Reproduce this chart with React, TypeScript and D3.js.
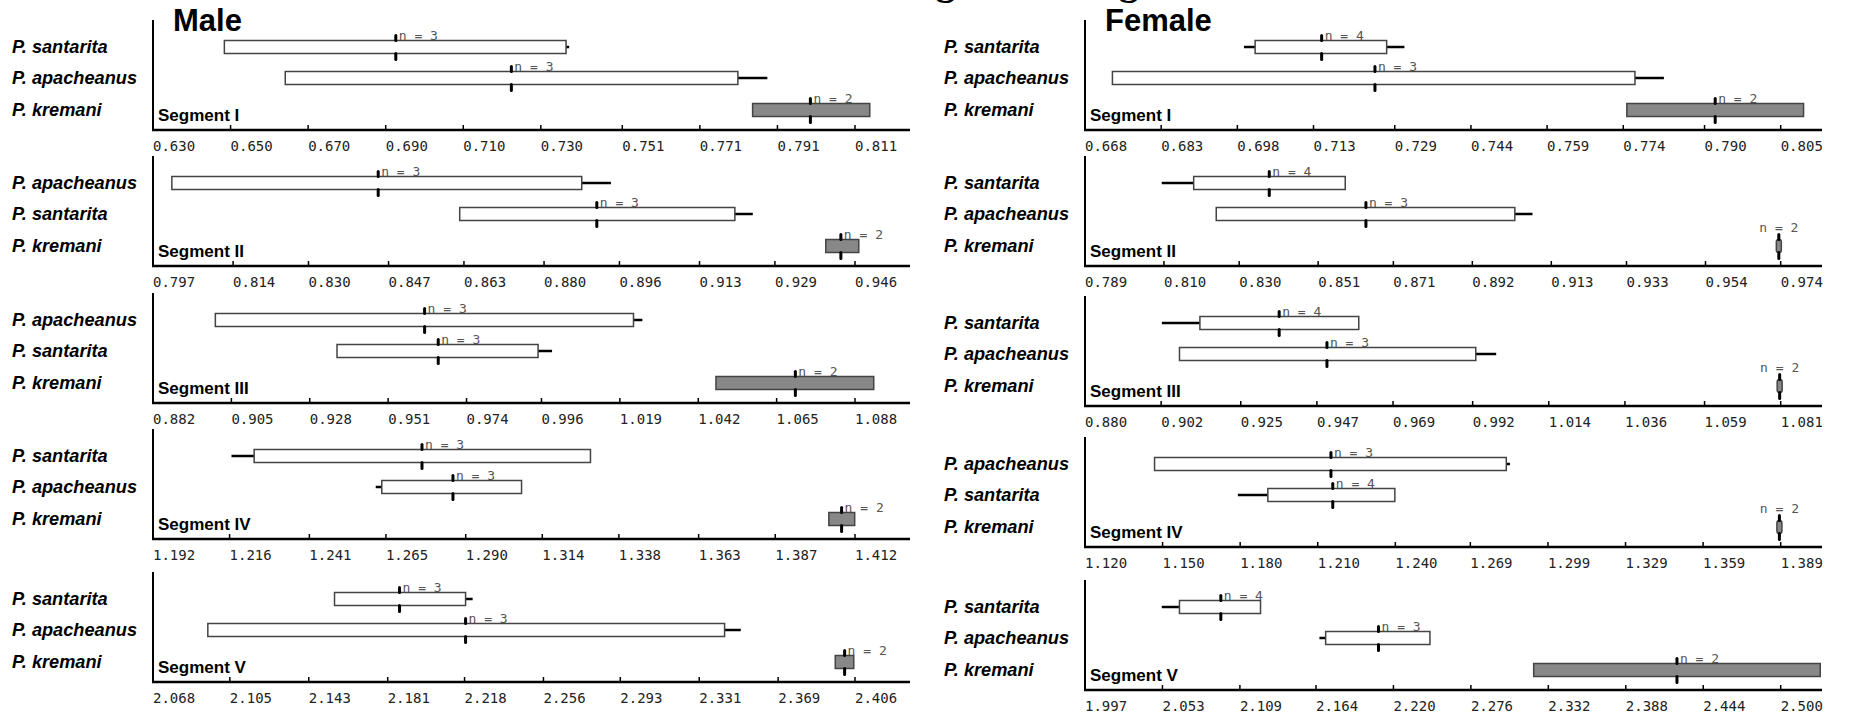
import React from "react";
import * as d3 from "d3";

type Row = { sp: string; lo: number; q1: number; q3: number; hi: number; mid: number; n: number };

const W = 1857;
const H = 713;

const segments = ["Segment I", "Segment II", "Segment III", "Segment IV", "Segment V"];

// tick labels of each panel, male column
const maleTicks = [
  ["0.630", "0.650", "0.670", "0.690", "0.710", "0.730", "0.751", "0.771", "0.791", "0.811"],
  ["0.797", "0.814", "0.830", "0.847", "0.863", "0.880", "0.896", "0.913", "0.929", "0.946"],
  ["0.882", "0.905", "0.928", "0.951", "0.974", "0.996", "1.019", "1.042", "1.065", "1.088"],
  ["1.192", "1.216", "1.241", "1.265", "1.290", "1.314", "1.338", "1.363", "1.387", "1.412"],
  ["2.068", "2.105", "2.143", "2.181", "2.218", "2.256", "2.293", "2.331", "2.369", "2.406"],
];

// female column
const femaleTicks = [
  ["0.668", "0.683", "0.698", "0.713", "0.729", "0.744", "0.759", "0.774", "0.790", "0.805"],
  ["0.789", "0.810", "0.830", "0.851", "0.871", "0.892", "0.913", "0.933", "0.954", "0.974"],
  ["0.880", "0.902", "0.925", "0.947", "0.969", "0.992", "1.014", "1.036", "1.059", "1.081"],
  ["1.120", "1.150", "1.180", "1.210", "1.240", "1.269", "1.299", "1.329", "1.359", "1.389"],
  ["1.997", "2.053", "2.109", "2.164", "2.220", "2.276", "2.332", "2.388", "2.444", "2.500"],
];

const maleSeg1: Row[] = [
  { sp: "P. santarita", lo: 0.6484, q1: 0.6484, q3: 0.7365, hi: 0.7373, mid: 0.6926, n: 3 },
  { sp: "P. apacheanus", lo: 0.6641, q1: 0.6641, q3: 0.7808, hi: 0.7884, mid: 0.7224, n: 3 },
  { sp: "P. kremani", lo: 0.7846, q1: 0.7846, q3: 0.8148, hi: 0.8148, mid: 0.7995, n: 2 },
];
const maleSeg2: Row[] = [
  { sp: "P. apacheanus", lo: 0.801, q1: 0.801, q3: 0.888, hi: 0.8942, mid: 0.8448, n: 3 },
  { sp: "P. santarita", lo: 0.8621, q1: 0.8621, q3: 0.9205, hi: 0.9243, mid: 0.8912, n: 3 },
  { sp: "P. kremani", lo: 0.9398, q1: 0.9398, q3: 0.9468, hi: 0.9468, mid: 0.943, n: 2 },
];
const maleSeg3: Row[] = [
  { sp: "P. apacheanus", lo: 0.9003, q1: 0.9003, q3: 1.023, hi: 1.0256, mid: 0.9617, n: 3 },
  { sp: "P. santarita", lo: 0.936, q1: 0.936, q3: 0.995, hi: 0.9991, mid: 0.9657, n: 3 },
  { sp: "P. kremani", lo: 1.0472, q1: 1.0472, q3: 1.0935, hi: 1.0935, mid: 1.0705, n: 2 },
];
const maleSeg4: Row[] = [
  { sp: "P. santarita", lo: 1.2166, q1: 1.2237, q3: 1.3291, hi: 1.3291, mid: 1.2763, n: 3 },
  { sp: "P. apacheanus", lo: 1.2618, q1: 1.2637, q3: 1.3075, hi: 1.3075, mid: 1.286, n: 3 },
  { sp: "P. kremani", lo: 1.4038, q1: 1.4038, q3: 1.4119, hi: 1.4119, mid: 1.4078, n: 2 },
];
const maleSeg5: Row[] = [
  { sp: "P. santarita", lo: 2.1554, q1: 2.1554, q3: 2.2185, hi: 2.2219, mid: 2.1867, n: 3 },
  { sp: "P. apacheanus", lo: 2.0944, q1: 2.0944, q3: 2.3432, hi: 2.351, mid: 2.2185, n: 3 },
  { sp: "P. kremani", lo: 2.3965, q1: 2.3965, q3: 2.4054, hi: 2.4054, mid: 2.401, n: 2 },
];

const femSeg1: Row[] = [
  { sp: "P. santarita", lo: 0.6993, q1: 0.7015, q3: 0.7274, hi: 0.7309, mid: 0.7146, n: 4 },
  { sp: "P. apacheanus", lo: 0.6734, q1: 0.6734, q3: 0.7763, hi: 0.782, mid: 0.7251, n: 3 },
  { sp: "P. kremani", lo: 0.7747, q1: 0.7747, q3: 0.8095, hi: 0.8095, mid: 0.7921, n: 2 },
];
const femSeg2: Row[] = [
  { sp: "P. santarita", lo: 0.8094, q1: 0.8179, q3: 0.8582, hi: 0.8582, mid: 0.838, n: 4 },
  { sp: "P. apacheanus", lo: 0.8239, q1: 0.8239, q3: 0.9033, hi: 0.908, mid: 0.8637, n: 3 },
  { sp: "P. kremani", lo: 0.973, q1: 0.973, q3: 0.974, hi: 0.974, mid: 0.9735, n: 2 },
];
const femSeg3: Row[] = [
  { sp: "P. santarita", lo: 0.9022, q1: 0.9132, q3: 0.9591, hi: 0.9591, mid: 0.9361, n: 4 },
  { sp: "P. apacheanus", lo: 0.9073, q1: 0.9073, q3: 0.9929, hi: 0.9988, mid: 0.9499, n: 3 },
  { sp: "P. kremani", lo: 1.0802, q1: 1.0802, q3: 1.0812, hi: 1.0812, mid: 1.0807, n: 2 },
];
const femSeg4: Row[] = [
  { sp: "P. apacheanus", lo: 1.1469, q1: 1.1469, q3: 1.2829, hi: 1.2843, mid: 1.2151, n: 3 },
  { sp: "P. santarita", lo: 1.1791, q1: 1.1907, q3: 1.2398, hi: 1.2398, mid: 1.2158, n: 4 },
  { sp: "P. kremani", lo: 1.388, q1: 1.388, q3: 1.389, hi: 1.389, mid: 1.3885, n: 2 },
];
const femSeg5: Row[] = [
  { sp: "P. santarita", lo: 2.0525, q1: 2.0653, q3: 2.1239, hi: 2.1239, mid: 2.0952, n: 4 },
  { sp: "P. apacheanus", lo: 2.1665, q1: 2.171, q3: 2.2464, hi: 2.2464, mid: 2.2092, n: 3 },
  { sp: "P. kremani", lo: 2.3214, q1: 2.3214, q3: 2.5286, hi: 2.5286, mid: 2.425, n: 2 },
];

const maleRows = [maleSeg1, maleSeg2, maleSeg3, maleSeg4, maleSeg5];
const femaleRows = [femSeg1, femSeg2, femSeg3, femSeg4, femSeg5];

// layout
const ROW_OFF = [-83, -52, -20];
const BOX_H = 13;
const SANS = "'Liberation Sans', Arial, Helvetica, sans-serif";
const MONO = "'DejaVu Sans Mono', monospace";

const columns = [
  { title: "Male", labelX: 12, x0: 153, step: 78, xEnd: 910, axisY: [130, 266, 403, 539, 682], ticks: maleTicks, rows: maleRows },
  { title: "Female", labelX: 944, x0: 1085, step: 77.3, xEnd: 1822, axisY: [130, 266, 406, 547, 690], ticks: femaleTicks, rows: femaleRows },
];

function Panel({ x0, step, xEnd, axisY, labelX, ticks, rows, seg }: any) {
  const t: string[] = ticks;
  const x = d3
    .scaleLinear()
    .domain([+t[0], +t[t.length - 1]])
    .range([x0, x0 + step * (t.length - 1)]);
  const top = axisY - 110;

  return (
    <g>
      <line x1={x0} x2={x0} y1={top} y2={axisY} stroke="#000" strokeWidth={2} />
      <line x1={x0 - 1} x2={xEnd} y1={axisY} y2={axisY} stroke="#000" strokeWidth={2.5} />
      {t.map((lab, i) => (
        <g key={lab + i}>
          {i > 0 && <line x1={x(+lab)} x2={x(+lab)} y1={axisY} y2={axisY - 5} stroke="#000" strokeWidth={1.5} />}
          <text x={x(+lab)} y={axisY + 21} fontFamily={MONO} fontSize={14} fill="#222">
            {lab}
          </text>
        </g>
      ))}
      <text x={x0 + 5} y={axisY - 9} fontFamily={SANS} fontWeight="bold" fontSize={17} fill="#000">
        {seg}
      </text>
      {(rows as Row[]).map((r, i) => {
        const cy = axisY + ROW_OFF[i];
        const b0 = x(r.q1);
        const b1 = x(r.q3);
        const narrow = b1 - b0 < 6;
        const bw = Math.max(b1 - b0, 5);
        const bx = narrow ? x(r.mid) - bw / 2 : b0;
        const yTop = cy - BOX_H / 2;
        const yBot = cy + BOX_H / 2;
        const xm = x(r.mid);
        const gray = r.sp === "P. kremani";
        return (
          <g key={r.sp}>
            <text x={labelX} y={cy + 6} fontFamily={SANS} fontWeight="bold" fontStyle="italic" fontSize={18.2} fill="#000">
              {r.sp}
            </text>
            {r.lo < r.q1 && <line x1={x(r.lo)} x2={b0} y1={cy} y2={cy} stroke="#000" strokeWidth={2.5} />}
            {r.hi > r.q3 && <line x1={b1} x2={x(r.hi)} y1={cy} y2={cy} stroke="#000" strokeWidth={2.5} />}
            <rect
              x={bx}
              y={yTop}
              width={bw}
              height={BOX_H}
              rx={narrow ? bw / 2 : 0}
              fill={gray ? "#888" : "#fff"}
              stroke="#444"
              strokeWidth={1.5}
            />
            <line x1={xm} x2={xm} y1={yTop - 5} y2={yTop} stroke="#000" strokeWidth={3} strokeLinecap="round" />
            <line x1={xm} x2={xm} y1={yBot} y2={yBot + 6} stroke="#000" strokeWidth={3} strokeLinecap="round" />
            {narrow ? (
              <text x={xm} y={yTop - 8} textAnchor="middle" fontFamily={MONO} fontSize={13} fill="#555">
                {`n = ${r.n}`}
              </text>
            ) : (
              <text x={xm + 3} y={yTop - 1} fontFamily={MONO} fontSize={13} fill="#555">
                {`n = ${r.n}`}
              </text>
            )}
          </g>
        );
      })}
    </g>
  );
}

export default function App() {
  return (
    <svg width={W} height={H} style={{ position: "absolute", left: 0, top: 0, background: "#fff" }}>
      <rect width={W} height={H} fill="#fff" />
      <text x={1035} y={-6} textAnchor="middle" fontFamily="'Liberation Serif', serif" fontWeight="bold" fontSize={40}>
        Segment Length
      </text>
      {columns.map((c) => (
        <g key={c.title}>
          <text x={c.x0 + 20} y={31} fontFamily={SANS} fontWeight="bold" fontSize={31} fill="#000">
            {c.title}
          </text>
          {segments.map((s, i) => (
            <Panel
              key={s}
              seg={s}
              x0={c.x0}
              step={c.step}
              xEnd={c.xEnd}
              axisY={c.axisY[i]}
              labelX={c.labelX}
              ticks={c.ticks[i]}
              rows={c.rows[i]}
            />
          ))}
        </g>
      ))}
    </svg>
  );
}
